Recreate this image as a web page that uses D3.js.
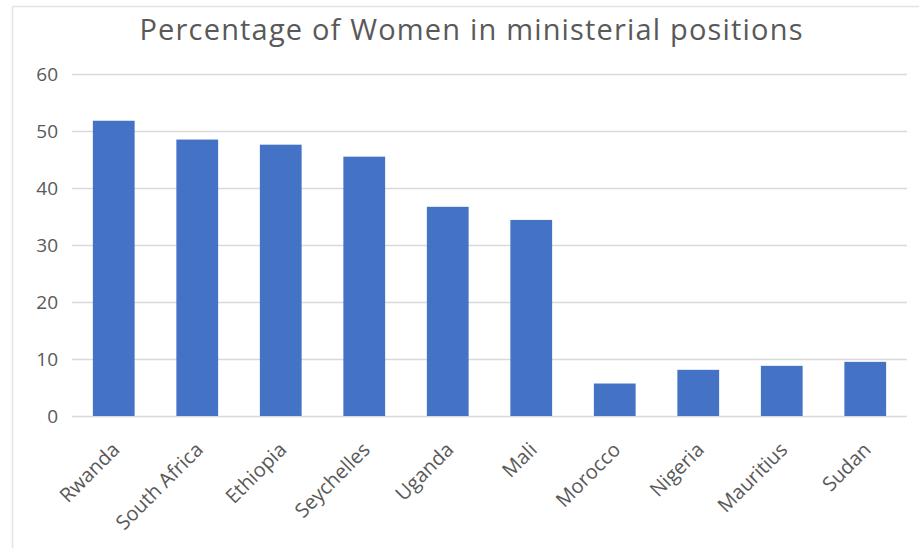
<!DOCTYPE html>
<html>
<head>
<meta charset="utf-8">
<script src="https://cdn.jsdelivr.net/npm/d3@7"></script>
<style>
  html, body { margin: 0; padding: 0; background: #fff; }
  svg { display: block; }
</style>
</head>
<body>
<svg id="chart" width="919" height="548"></svg>
<script>
const title = "Percentage of Women in ministerial positions";
const countries = ["Rwanda", "South Africa", "Ethiopia", "Seychelles", "Uganda", "Mali", "Morocco", "Nigeria", "Mauritius", "Sudan"];
const values = [51.8, 48.5, 47.6, 45.5, 36.7, 34.4, 5.7, 8.1, 8.8, 9.5];
const yTicks = [0, 10, 20, 30, 40, 50, 60];

const svg = d3.select("#chart");
const W = 919, H = 548;
const m = { left: 72, right: 12, top: 74, bottom: 132 };
const font = "'Open Sans', 'Noto Sans', sans-serif";
const textColor = "#595959";

// outer frame (top and left edges visible)
svg.append("line").attr("x1", 12).attr("x2", W).attr("y1", 6.5).attr("y2", 6.5)
  .attr("stroke", "#e3e3e3").attr("stroke-width", 1.5);
svg.append("line").attr("x1", 12.5).attr("x2", 12.5).attr("y1", 6).attr("y2", H)
  .attr("stroke", "#e3e3e3").attr("stroke-width", 1.5);

const x = d3.scaleBand().domain(countries).range([m.left, W - m.right])
  .paddingInner(0.5).paddingOuter(0.25);
const y = d3.scaleLinear().domain([0, 60]).range([H - m.bottom, m.top]);

// gridlines
const yAxis = d3.axisLeft(y).tickValues(yTicks).tickSize(-(W - m.right - m.left)).tickPadding(14);
const gy = svg.append("g").attr("transform", `translate(${m.left},0)`).call(yAxis);
gy.select(".domain").remove();
gy.selectAll(".tick line").attr("stroke", "#d9d9d9").attr("stroke-width", 1.5);
gy.selectAll(".tick text").attr("fill", textColor).style("font-family", font).style("font-size", "19px");

// bars
svg.append("g").selectAll("rect").data(countries).join("rect")
  .attr("x", d => x(d))
  .attr("width", x.bandwidth())
  .attr("y", (d, i) => y(values[i]))
  .attr("height", (d, i) => y(0) - y(values[i]))
  .attr("fill", "#4472c4");

// x axis labels
const xAxis = d3.axisBottom(x).tickSize(0).tickPadding(0);
const gx = svg.append("g").attr("transform", `translate(0,${y(0)})`).call(xAxis);
gx.select(".domain").remove();
gx.selectAll(".tick text")
  .attr("fill", textColor)
  .style("font-family", font).style("font-size", "20px")
  .attr("text-anchor", "end")
  .attr("dy", "0")
  .attr("transform", "translate(7,35) rotate(-45)")
  .attr("y", 0).attr("x", 0);

// title
svg.append("text").attr("x", 471).attr("y", 40)
  .attr("text-anchor", "middle")
  .attr("fill", textColor)
  .style("font-family", font).style("font-size", "29px")
  .attr("textLength", 663).attr("lengthAdjust", "spacing")
  .text(title);
</script>
</body>
</html>
